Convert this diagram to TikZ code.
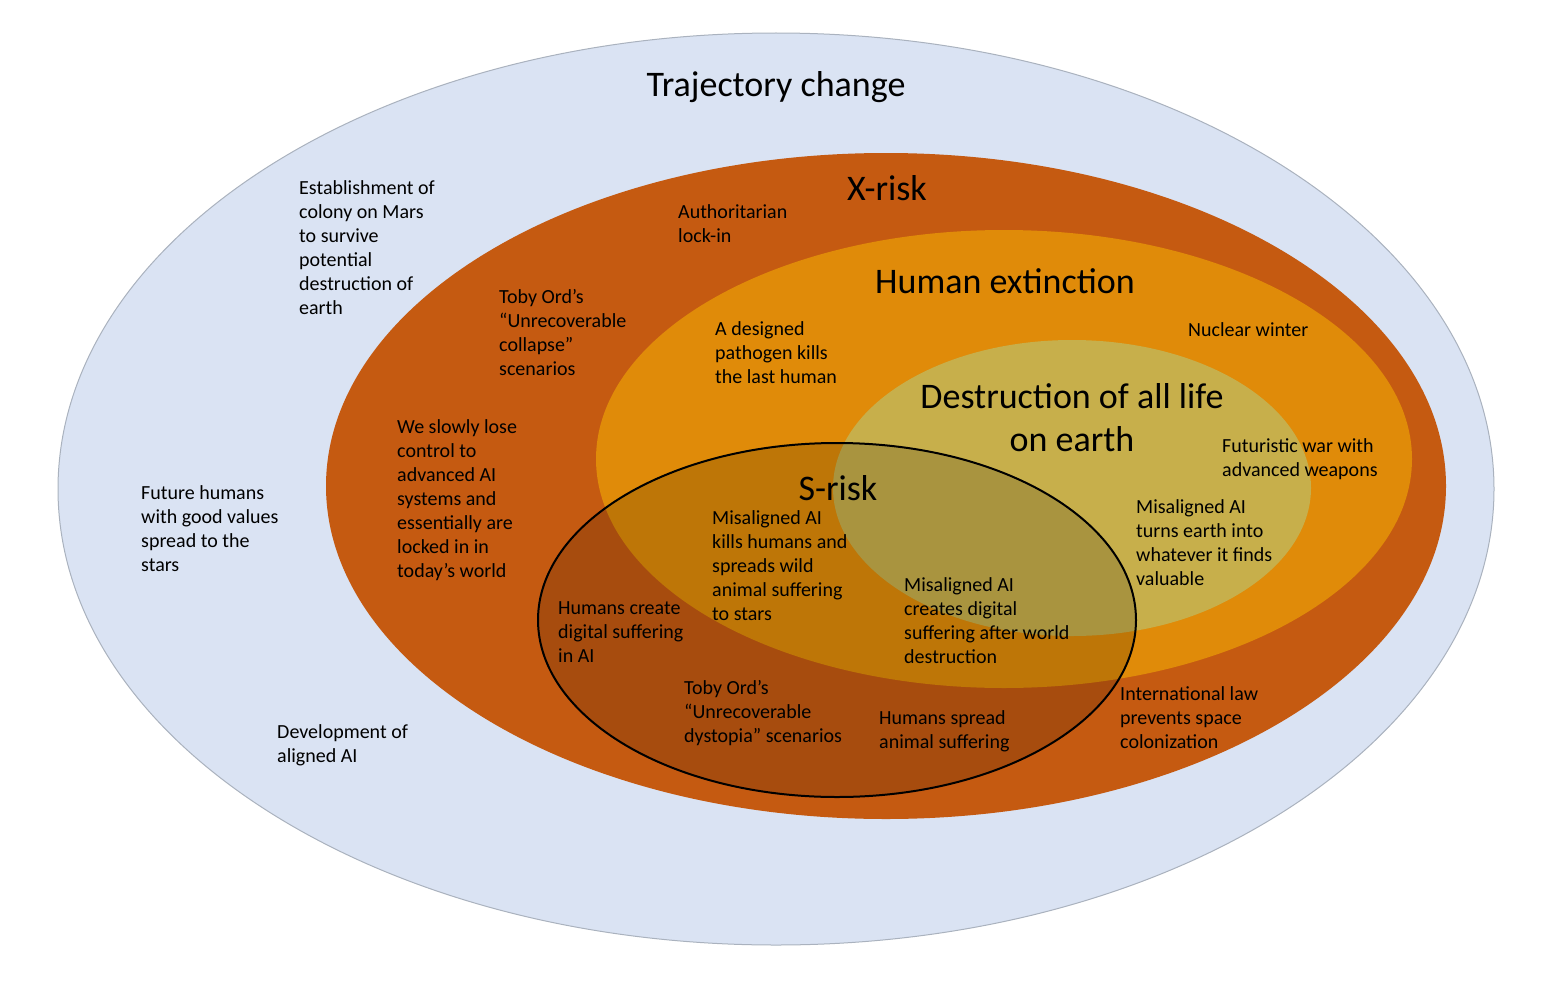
\documentclass[tikz,border=0pt]{standalone}
\usepackage{fontspec}
\setmainfont{Carlito}
\usetikzlibrary{positioning}
\definecolor{TrajBlue}{RGB}{218,227,243}
\definecolor{TrajEdge}{RGB}{170,178,190}
\definecolor{XRiskOrange}{RGB}{197,90,17}
\definecolor{ExtGold}{RGB}{224,139,9}
\definecolor{LifeOlive}{RGB}{199,175,75}
\tikzset{
  srisk/.style={fill=black,fill opacity=0.15,draw=black,line width=2pt},
  % anchored on the baseline of the last line
  lbl/.style={anchor=base west,align=left,inner sep=0pt,
    font=\fontsize{20}{24}\selectfont},
  ttl/.style={anchor=base,align=center,inner sep=0pt,
    font=\fontsize{36}{43}\selectfont}
}

\begin{document}
\begin{tikzpicture}[x=1pt,y=-1pt]
  \useasboundingbox (0,0) rectangle (1552,982);
  % nested sets
  \fill[TrajBlue,draw=TrajEdge,line width=1pt] (776,489) ellipse [x radius=718,y radius=456];
  \fill[XRiskOrange] (886,486) ellipse [x radius=560,y radius=333];
  \fill[ExtGold] (1004,459) ellipse [x radius=408,y radius=229];
  \fill[LifeOlive] (1072,488) ellipse [x radius=239,y radius=148];
  \path[srisk] (837,620) ellipse [x radius=299,y radius=177];

  % set titles
  \node[ttl] (traj) at (776,96) {Trajectory change};
  \node[ttl] (xrisk) at (887,200) {X-risk};
  \node[ttl] (ext) at (1005,293) {Human extinction};
  \node[ttl] (life) at (1072,451) {Destruction of all life\\on earth};
  \node[ttl] (srisktitle) at (838,500) {S-risk};

  % examples
  \node[lbl] (mars) at (299,314) {Establishment of\\colony on Mars\\to survive\\potential\\destruction of\\earth};
  \node[lbl] (collapse) at (499,375) {Toby Ord’s\\“Unrecoverable\\collapse”\\scenarios};
  \node[lbl] (lockin) at (678,242) {Authoritarian\\lock-in};
  \node[lbl] (pathogen) at (715,383) {A designed\\pathogen kills\\the last human};
  \node[lbl] (nuclear) at (1188,336) {Nuclear winter};
  \node[lbl] (losectrl) at (397,577) {We slowly lose\\control to\\advanced AI\\systems and\\essentially are\\locked in in\\today's world};
  \node[lbl] (goodvals) at (141,571) {Future humans\\with good values\\spread to the\\stars};
  \node[lbl] (aligned) at (277,762) {Development of\\aligned AI};
  \node[lbl] (war) at (1222,476) {Futuristic war with\\advanced weapons};
  \node[lbl] (valuable) at (1136,585) {Misaligned AI\\turns earth into\\whatever it finds\\valuable};
  \node[lbl] (wild) at (712,620) {Misaligned AI\\kills humans and\\spreads wild\\animal suffering\\to stars};
  \node[lbl] (digital) at (558,662) {Humans create\\digital suffering\\in AI};
  \node[lbl] (afterworld) at (904,663) {Misaligned AI\\creates digital\\suffering after world\\destruction};
  \node[lbl] (dystopia) at (684,742) {Toby Ord’s\\“Unrecoverable\\dystopia” scenarios};
  \node[lbl] (animal) at (879,748) {Humans spread\\animal suffering};
  \node[lbl] (intlaw) at (1120,748) {International law\\prevents space\\colonization};
\end{tikzpicture}
\end{document}
